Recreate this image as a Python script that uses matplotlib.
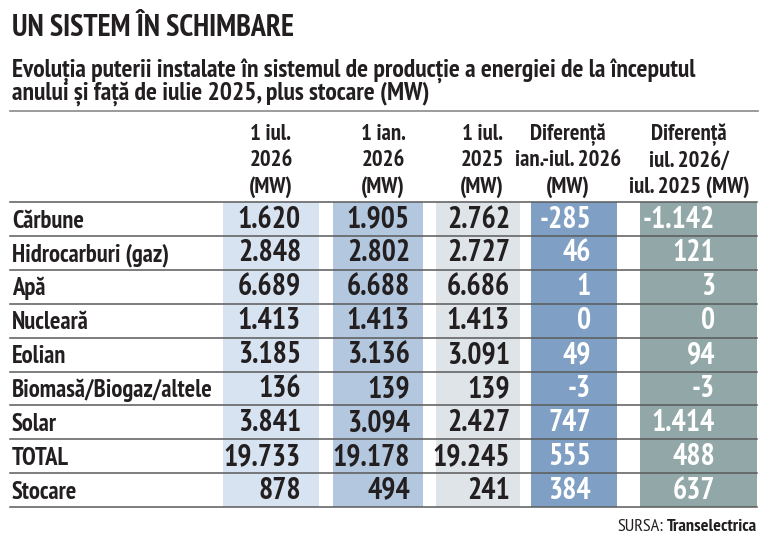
import matplotlib
matplotlib.use("Agg")
import matplotlib.pyplot as plt
from matplotlib import font_manager as fm
from matplotlib.patches import Rectangle

# data
title = "UN SISTEM ÎN SCHIMBARE"
subtitle = ["Evoluția puterii instalate în sistemul de producție a energiei de la începutul",
            "anului și față de iulie 2025, plus stocare (MW)"]
categories = ["Cărbune", "Hidrocarburi (gaz)", "Apă", "Nucleară", "Eolian",
              "Biomasă/Biogaz/altele", "Solar", "TOTAL", "Stocare"]
headers = [["1 iul.", "2026", "(MW)"],
           ["1 ian.", "2026", "(MW)"],
           ["1 iul.", "2025", "(MW)"],
           ["Diferență", "ian.-iul. 2026", "(MW)"],
           ["Diferență", "iul. 2026/", "iul. 2025 (MW)"]]
jul_2026 = [1620, 2848, 6689, 1413, 3185, 136, 3841, 19733, 878]
ian_2026 = [1905, 2802, 6688, 1413, 3136, 139, 3094, 19178, 494]
jul_2025 = [2762, 2727, 6686, 1413, 3091, 139, 2427, 19245, 241]
diff_ian_iul = [-285, 46, 1, 0, 49, -3, 747, 555, 384]
diff_iul_iul = [-1142, 121, 3, 0, 94, -3, 1414, 488, 637]
source_label = "SURSA:"
source_name = "Transelectrica"

columns = [jul_2026, ian_2026, jul_2025, diff_ian_iul, diff_iul_iul]

families = ["PT Sans Narrow", "Fira Sans Condensed", "Roboto Condensed", "DejaVu Sans"]
fp_b = fm.FontProperties(family=families, weight="bold")
fp_r = fm.FontProperties(family=families, weight="normal")

# style / layout (pixels)
col_bg = ["#d7e3f0", "#b3c8df", "#dee4e8", "#7f9fc4", "#91a7a8"]
col_txt = ["#231f20", "#231f20", "#231f20", "white", "white"]
col_left = [223, 333, 436, 531, 640]
col_right = [319, 423, 520, 617, 757]
num_right = [301, 410, 510, 591, 715]
head_center = [271, 383, 482, 568, 689]
table_top = 202
row_h = 33.9
dark = "#231f20"


def fmt(v):
    s = f"{abs(v):,}".replace(",", ".")
    return "-" + s if v < 0 else s


fig = plt.figure(figsize=(7.68, 5.39), dpi=100)
ax = fig.add_axes([0, 0, 1, 1])
ax.set_xlim(0, 768)
ax.set_ylim(539, 0)
ax.axis("off")
rend = fig.canvas.get_renderer()


def fit(s, width_px, fp=None):
    # font size that makes s about width_px wide
    t = ax.text(0, 0, s, fontproperties=fp or fp_b, fontsize=10)
    w = t.get_window_extent(renderer=rend).width
    t.remove()
    return 10 * width_px / w


def txt(x, y, s, size, fp=None, **kw):
    return ax.text(x, y, s, fontproperties=fp or fp_b, fontsize=size, **kw)


fs_title = fit(title, 283)
fs_sub = fit(subtitle[0], 690)
fs_head = fit("iul. 2025 (MW)", 121)
fs_cat = fit("Biomasă/Biogaz/altele", 201)
fs_num = fit("19.733", 77.5)
fs_src = fit("SURSA: Transelectrica", 142)

txt(12, 36.5, title, fs_title, color=dark, va="baseline")
txt(12, 77, subtitle[0], fs_sub, color=dark, va="baseline")
txt(12, 100, subtitle[1], fs_sub, color=dark, va="baseline")
ax.plot([10, 758], [111, 111], color="#8a8a8a", lw=1.2)

n = len(categories)
table_bottom = table_top + row_h * n

# column backgrounds
for j in range(len(columns)):
    ax.add_patch(Rectangle((col_left[j], table_top), col_right[j] - col_left[j],
                           table_bottom - table_top, color=col_bg[j], lw=0, zorder=1))

# headers
for j, lines in enumerate(headers):
    for m, line in enumerate(lines):
        txt(head_center[j], 135 + 26 * m, line, fs_head, color=dark,
            ha="center", va="center")

# row lines
for i in range(n + 1):
    ax.plot([10, 757], [table_top + row_h * i] * 2, color="#5a5a5a", lw=1.1, zorder=3)

# rows
for i, cat in enumerate(categories):
    base = table_top + row_h * i + 25.5
    txt(12, base, cat, fs_cat, color=dark, va="baseline", zorder=4)
    for j, col in enumerate(columns):
        txt(num_right[j], base, fmt(col[i]), fs_num, color=col_txt[j],
            ha="right", va="baseline", zorder=4)

# source
t = txt(757, 531, source_name, fs_src, color=dark, ha="right", va="baseline")
w = t.get_window_extent(renderer=rend).width
txt(757 - w - 3, 531, source_label, fs_src, fp=fp_r, color=dark, ha="right", va="baseline")

fig.savefig("out.png", dpi=100)
